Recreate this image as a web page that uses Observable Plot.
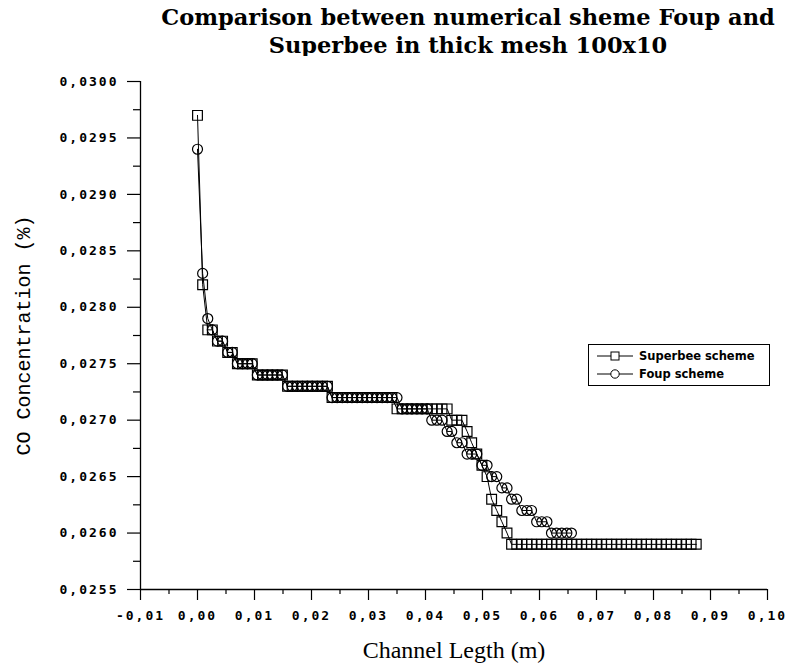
<!DOCTYPE html>
<html><head><meta charset="utf-8">
<script src="https://cdn.jsdelivr.net/npm/d3@7"></script>
<script src="https://cdn.jsdelivr.net/npm/@observablehq/plot@0.6"></script>
<style>
body{margin:0;background:#fff;}
#wrap{position:relative;width:793px;height:666px;overflow:hidden;background:#fff;}
#title{position:absolute;left:140px;top:3px;width:656px;text-align:center;font-family:"DejaVu Serif",serif;font-weight:bold;font-size:22.5px;line-height:28px;color:#000;white-space:nowrap;}
#chart{position:absolute;left:0;top:56px;}
#legend{position:absolute;left:588px;top:344px;width:180px;height:40px;border:1.5px solid #000;background:#fff;font-family:"DejaVu Sans",sans-serif;font-weight:bold;font-size:11.5px;}
#legend .row{position:absolute;left:8px;height:16px;display:flex;align-items:center;}
#legend svg{margin-right:6px;}
g[aria-label="y-axis tick label"] text, g[aria-label="x-axis tick label"] text{font-family:"DejaVu Sans Mono",monospace;font-weight:bold;font-size:13px;letter-spacing:2px;}
g[aria-label="y-axis label"] text{font-family:"Liberation Mono",monospace;font-size:20px;}
g[aria-label="x-axis label"] text{font-family:"Liberation Serif",serif;font-size:24px;}
</style></head><body>
<div id="wrap">
<div id="title"><div>Comparison between numerical sheme Foup and</div><div>Superbee in thick mesh 100x10</div></div>
<div id="chart"></div>
<div id="legend">
 <div class="row" style="top:3px"><svg width="36" height="12"><line x1="0" y1="6" x2="36" y2="6" stroke="#000"/><rect x="14" y="2" width="8" height="8" fill="#fff" stroke="#000"/></svg><span>Superbee scheme</span></div>
 <div class="row" style="top:21px"><svg width="36" height="12"><line x1="0" y1="6" x2="36" y2="6" stroke="#000"/><circle cx="18" cy="6" r="4.2" fill="#fff" stroke="#000"/></svg><span>Foup scheme</span></div>
</div>
</div>
<script>
// ---- data ----
const superbeeX = [0.0000,0.0009,0.0018,0.0026,0.0035,0.0044,0.0053,0.0061,0.0070,0.0079,0.0088,0.0096,0.0105,0.0114,0.0123,0.0131,0.0140,0.0149,0.0158,0.0166,0.0175,0.0184,0.0193,0.0201,0.0210,0.0219,0.0228,0.0236,0.0245,0.0254,0.0263,0.0271,0.0280,0.0289,0.0298,0.0306,0.0315,0.0324,0.0333,0.0341,0.0350,0.0359,0.0368,0.0376,0.0385,0.0394,0.0403,0.0411,0.0420,0.0429,0.0438,0.0446,0.0455,0.0464,0.0473,0.0481,0.0490,0.0499,0.0508,0.0516,0.0525,0.0534,0.0543,0.0551,0.0560,0.0569,0.0578,0.0586,0.0595,0.0604,0.0613,0.0621,0.0630,0.0639,0.0648,0.0656,0.0665,0.0674,0.0683,0.0691,0.0700,0.0709,0.0718,0.0726,0.0735,0.0744,0.0753,0.0761,0.0770,0.0779,0.0788,0.0796,0.0805,0.0814,0.0823,0.0831,0.0840,0.0849,0.0858,0.0866,0.0875];
const superbeeY = [0.0297,0.0282,0.0278,0.0278,0.0277,0.0277,0.0276,0.0276,0.0275,0.0275,0.0275,0.0275,0.0274,0.0274,0.0274,0.0274,0.0274,0.0274,0.0273,0.0273,0.0273,0.0273,0.0273,0.0273,0.0273,0.0273,0.0273,0.0272,0.0272,0.0272,0.0272,0.0272,0.0272,0.0272,0.0272,0.0272,0.0272,0.0272,0.0272,0.0272,0.0271,0.0271,0.0271,0.0271,0.0271,0.0271,0.0271,0.0271,0.0271,0.0271,0.0271,0.0270,0.0270,0.0270,0.0269,0.0268,0.0267,0.0266,0.0265,0.0263,0.0262,0.0261,0.0260,0.0259,0.0259,0.0259,0.0259,0.0259,0.0259,0.0259,0.0259,0.0259,0.0259,0.0259,0.0259,0.0259,0.0259,0.0259,0.0259,0.0259,0.0259,0.0259,0.0259,0.0259,0.0259,0.0259,0.0259,0.0259,0.0259,0.0259,0.0259,0.0259,0.0259,0.0259,0.0259,0.0259,0.0259,0.0259,0.0259,0.0259,0.0259];
const foupX = [0.0000,0.0009,0.0018,0.0026,0.0035,0.0044,0.0053,0.0061,0.0070,0.0079,0.0088,0.0096,0.0105,0.0114,0.0123,0.0131,0.0140,0.0149,0.0158,0.0166,0.0175,0.0184,0.0193,0.0201,0.0210,0.0219,0.0228,0.0236,0.0245,0.0254,0.0263,0.0271,0.0280,0.0289,0.0298,0.0306,0.0315,0.0324,0.0333,0.0341,0.0350,0.0359,0.0368,0.0376,0.0385,0.0394,0.0403,0.0411,0.0420,0.0429,0.0438,0.0446,0.0455,0.0464,0.0473,0.0481,0.0490,0.0499,0.0508,0.0516,0.0525,0.0534,0.0543,0.0551,0.0560,0.0569,0.0578,0.0586,0.0595,0.0604,0.0613,0.0621,0.0630,0.0639,0.0648,0.0656];
const foupY = [0.0294,0.0283,0.0279,0.0278,0.0277,0.0277,0.0276,0.0276,0.0275,0.0275,0.0275,0.0275,0.0274,0.0274,0.0274,0.0274,0.0274,0.0274,0.0273,0.0273,0.0273,0.0273,0.0273,0.0273,0.0273,0.0273,0.0273,0.0272,0.0272,0.0272,0.0272,0.0272,0.0272,0.0272,0.0272,0.0272,0.0272,0.0272,0.0272,0.0272,0.0272,0.0271,0.0271,0.0271,0.0271,0.0271,0.0271,0.0270,0.0270,0.0270,0.0269,0.0269,0.0268,0.0268,0.0267,0.0267,0.0267,0.0266,0.0266,0.0265,0.0265,0.0264,0.0264,0.0263,0.0263,0.0262,0.0262,0.0262,0.0261,0.0261,0.0261,0.0260,0.0260,0.0260,0.0260,0.0260];
const xMajorTicks = [-0.01,0.00,0.01,0.02,0.03,0.04,0.05,0.06,0.07,0.08,0.09,0.10];
const xMinorTicks = [-0.005,0.005,0.015,0.025,0.035,0.045,0.055,0.065,0.075,0.085,0.095];
const yMajorTicks = [0.0255,0.0260,0.0265,0.0270,0.0275,0.0280,0.0285,0.0290,0.0295,0.0300];
const yMinorTicks = [0.02575,0.02625,0.02675,0.02725,0.02775,0.02825,0.02875,0.02925,0.02975];

const superbee = superbeeX.map((x, i) => ({x, y: superbeeY[i]}));
const foup = foupX.map((x, i) => ({x, y: foupY[i]}));
const comma = (f) => (d) => d3.format(f)(d).replace(".", ",").replace("−", "-");

const chart = Plot.plot({
  width: 793, height: 610,
  marginLeft: 140, marginRight: 26, marginTop: 25, marginBottom: 77,
  x: {domain: [-0.01, 0.10]},
  y: {domain: [0.0255, 0.0300]},
  style: {background: "#fff", color: "#000"},
  marks: [
    Plot.axisY(yMajorTicks, {tickSize: 13, tickPadding: 9, tickFormat: comma(".4f"), label: "CO Concentration (%)", labelAnchor: "center", labelArrow: "none", labelOffset: 125, strokeWidth: 1.2}),
    Plot.axisY(yMinorTicks, {tickSize: 7, tickFormat: () => "", label: null, strokeWidth: 1.2}),
    Plot.axisX(xMajorTicks, {tickSize: 11, tickPadding: 10, tickFormat: comma(".2f"), label: "Channel Legth (m)", labelAnchor: "center", labelArrow: "none", labelOffset: 68, strokeWidth: 1.2}),
    Plot.axisX(xMinorTicks, {tickSize: 5, tickFormat: () => "", label: null, strokeWidth: 1.2}),
    Plot.ruleY([0.0255], {strokeWidth: 1.3}),
    Plot.ruleX([-0.01], {strokeWidth: 1.3}),
    Plot.line(superbee, {x: "x", y: "y", stroke: "#000", strokeWidth: 1}),
    Plot.line(foup, {x: "x", y: "y", stroke: "#000", strokeWidth: 1}),
    Plot.dot(superbee, {x: "x", y: "y", symbol: "square", r: 5.5, stroke: "#000", fill: "none", strokeWidth: 1.2}),
    Plot.dot(foup, {x: "x", y: "y", symbol: "circle", r: 5, stroke: "#000", fill: "none", strokeWidth: 1.2})
  ]
});
document.getElementById("chart").appendChild(chart);
</script>
</body></html>
